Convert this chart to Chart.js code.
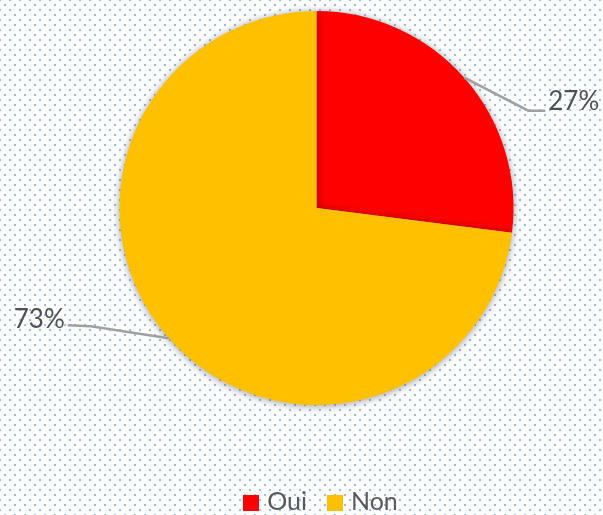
<!DOCTYPE html>
<html lang="fr">
<head>
<meta charset="UTF-8">
<title>Oui / Non</title>
<script src="https://cdn.jsdelivr.net/npm/chart.js"></script>
<style>
    html, body {
        margin: 0;
        padding: 0;
    }
    body {
        width: 603px;
        height: 515px;
        overflow: hidden;
        background-color: #ffffff;
        background-image:
            radial-gradient(circle, #9fbde0 1px, transparent 1.6px),
            radial-gradient(circle, #9fbde0 1px, transparent 1.6px);
        background-size: 10px 10px, 10px 10px;
        background-position: 0 0, 5px 5px;
        font-family: Lato, "Open Sans", sans-serif;
    }
    #wrap {
        position: relative;
        width: 603px;
        height: 515px;
    }
    #legend {
        position: absolute;
        left: 0;
        top: 486px;
        width: 603px;
        text-align: center;
        padding-left: 38px;
        box-sizing: border-box;
        font-size: 25px;
        color: #595959;
        line-height: 28px;
    }
    #legend span.item {
        margin: 0 10px;
        white-space: nowrap;
    }
    #legend span.box {
        display: inline-block;
        width: 16px;
        height: 16px;
        margin-right: 8px;
        vertical-align: -1px;
    }
</style>
</head>
<body>
<div id="wrap">
    <canvas id="pieChart" width="603" height="515"></canvas>
    <div id="legend"></div>
</div>

<script>
    const labels = ['Oui', 'Non'];
    const values = [27, 73];
    const colors = ['#ff0000', '#ffc000'];

    // soft shadow round the pie
    const shadowPlugin = {
        id: 'pieShadow',
        beforeDatasetsDraw(chart) {
            const c = chart.ctx;
            c.save();
            c.shadowColor = 'rgba(0, 0, 0, 0.4)';
            c.shadowBlur = 8;
            c.shadowOffsetX = 0;
            c.shadowOffsetY = 1;
        },
        afterDatasetsDraw(chart) {
            chart.ctx.restore();
        }
    };

    // percentage labels with leader lines, like the Excel original
    const leaderPlugin = {
        id: 'leaders',
        afterDatasetsDraw(chart) {
            const c = chart.ctx;
            const meta = chart.getDatasetMeta(0);
            const total = values.reduce((a, b) => a + b, 0);
            // elbow and end offsets from the slice edge point
            const bends = [
                { elbow: [64, 33], end: [81, 33], align: 'left', tx: 84, ty: 24 },
                { elbow: [-78, -12], end: [-101, -13], align: 'right', tx: -104, ty: -19 }
            ];
            meta.data.forEach((arc, i) => {
                const p = arc.getProps(['x', 'y', 'startAngle', 'endAngle', 'outerRadius'], true);
                const mid = (p.startAngle + p.endAngle) / 2;
                const ex = p.x + Math.cos(mid) * p.outerRadius;
                const ey = p.y + Math.sin(mid) * p.outerRadius;
                const b = bends[i];
                c.save();
                c.strokeStyle = '#a0a0a0';
                c.lineWidth = 2.5;
                c.beginPath();
                c.moveTo(ex, ey);
                c.lineTo(ex + b.elbow[0], ey + b.elbow[1]);
                c.lineTo(ex + b.end[0], ey + b.end[1]);
                c.stroke();
                c.fillStyle = '#505050';
                c.font = '26px Lato, "Open Sans", sans-serif';
                c.textAlign = b.align;
                c.textBaseline = 'middle';
                const pct = Math.round(values[i] / total * 100) + '%';
                c.fillText(pct, ex + b.tx, ey + b.ty);
                c.restore();
            });
        }
    };

    const ctx = document.getElementById('pieChart').getContext('2d');
    const pieChart = new Chart(ctx, {
        type: 'pie',
        data: {
            labels: labels,
            datasets: [{
                data: values,
                backgroundColor: colors,
                borderWidth: 0
            }]
        },
        options: {
            responsive: false,
            animation: false,
            layout: {
                padding: { left: 30, right: 0, top: 11, bottom: 110 }
            },
            plugins: {
                legend: { display: false },
                tooltip: { enabled: false }
            }
        },
        plugins: [shadowPlugin, leaderPlugin]
    });

    // legend below the pie
    const legend = document.getElementById('legend');
    labels.forEach((lab, i) => {
        const item = document.createElement('span');
        item.className = 'item';
        const box = document.createElement('span');
        box.className = 'box';
        box.style.background = colors[i];
        item.appendChild(box);
        item.appendChild(document.createTextNode(lab));
        legend.appendChild(item);
    });
</script>
</body>
</html>
